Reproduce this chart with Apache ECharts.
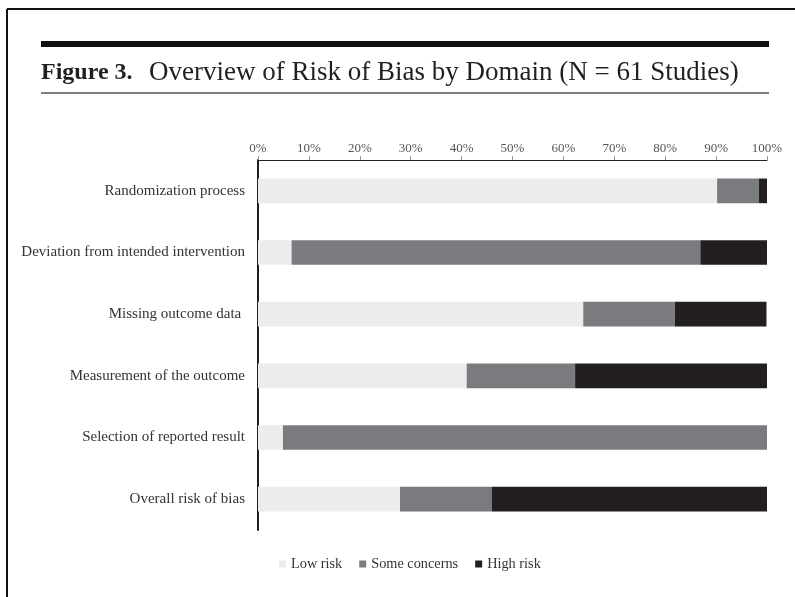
<!DOCTYPE html>
<html>
<head>
<meta charset="utf-8">
<script src="https://cdn.jsdelivr.net/npm/echarts@6/dist/echarts.min.js"></script>
<style>html,body{margin:0;padding:0;background:#fff;}#c{width:795px;height:597px;}</style>
</head>
<body>
<div id="c"></div>
<script>
const categories = ["Randomization process","Deviation from intended intervention","Missing outcome data ","Measurement of the outcome","Selection of reported result","Overall risk of bias"];
const seriesNames = ["Low risk","Some concerns","High risk"];
const lowRisk = [90.2, 6.6, 63.9, 41.0, 4.9, 27.9];
const someConcerns = [8.2, 80.3, 18.0, 21.3, 95.1, 18.0];
const highRisk = [1.6, 13.1, 18.0, 37.7, 0, 54.1];
const tickValues = [0,10,20,30,40,50,60,70,80,90,100];
const colors = ["#ececec","#7a7b7e","#231f20"];
const FONT = '"Liberation Serif", "DejaVu Serif", serif';

const chart = echarts.init(document.getElementById('c'), null, {renderer:'canvas'});
const values = [lowRisk, someConcerns, highRisk];
chart.setOption({
  animation:false,
  backgroundColor:'#fff',
  textStyle:{fontFamily:FONT},
  title:{
    left:36, top:54,
    text:'{b|Figure 3.}  Overview of Risk of Bias by Domain (N = 61 Studies)',
    textStyle:{fontFamily:FONT,fontSize:27,fontWeight:'normal',color:'#231f20',
      rich:{b:{fontFamily:FONT,fontSize:24,fontWeight:'bold',color:'#231f20',padding:[0,3,0,0]}}}
  },
  graphic:[
    {type:'line',shape:{x1:7,y1:9,x2:795,y2:9},style:{stroke:'#111',lineWidth:2}},
    {type:'line',shape:{x1:7,y1:9,x2:7,y2:597},style:{stroke:'#111',lineWidth:2}},
    {type:'line',shape:{x1:41,y1:44,x2:769,y2:44},style:{stroke:'#111',lineWidth:6}},
    {type:'line',shape:{x1:41,y1:93,x2:769,y2:93},style:{stroke:'#555',lineWidth:1.5}}
  ],
  legend:{
    data:seriesNames, top:552, left:274,
    icon:'rect', itemWidth:7, itemHeight:7, itemGap:17,
    textStyle:{fontFamily:FONT,fontSize:14.3,color:'#333'}
  },
  grid:{left:258,right:28,top:160,bottom:67,containLabel:false},
  xAxis:{
    type:'value', position:'top', min:0, max:100, interval:10,
    axisLine:{show:true,lineStyle:{color:'#231f20',width:1}},
    axisTick:{show:true,length:4,lineStyle:{color:'#999'}},
    axisLabel:{formatter:'{value}%',fontFamily:FONT,fontSize:13,color:'#555',margin:5},
    splitLine:{show:false}
  },
  yAxis:{
    type:'category', data:categories, inverse:true,
    axisLine:{show:true,lineStyle:{color:'#231f20',width:2}},
    axisTick:{show:false},
    axisLabel:{fontFamily:FONT,fontSize:15,color:'#333',margin:13}
  },
  series: seriesNames.map((n,i)=>({
    name:n, type:'bar', stack:'total', barWidth:'40%',
    data:values[i],
    itemStyle:{color:colors[i]}
  }))
});
</script>
</body>
</html>
